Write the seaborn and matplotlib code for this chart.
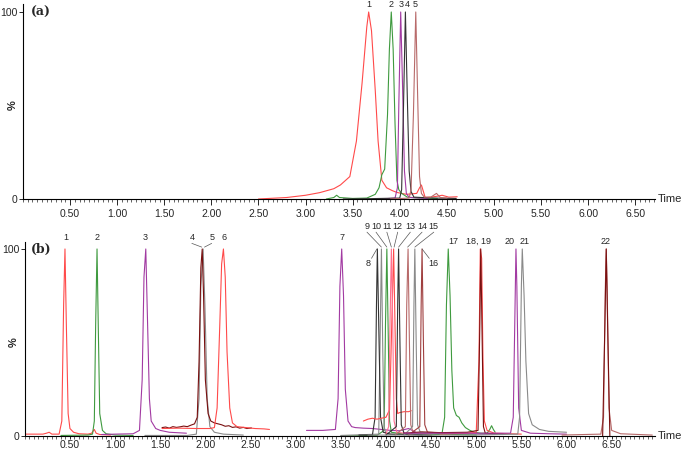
import numpy as np
import pandas as pd
import matplotlib
matplotlib.use("Agg")
import matplotlib.pyplot as plt
import seaborn as sns
from matplotlib.ticker import MultipleLocator, FixedLocator

sns.set_style("ticks")
plt.rcParams['font.family'] = ['Liberation Sans', 'DejaVu Sans']

# ---------------- colours ----------------
RED = "#ff4a4a"
DRED = "#7a1010"
GREEN = "#3f9a3f"
PURPLE = "#a23aa2"
DGRAY = "#333333"
GRAY = "#8a8a8a"
ROSY = "#b86a6a"
PINK = "#ff6f8f"

# ---------------- panel (a) data ----------------
a1_t = [2.50, 2.80, 3.00, 3.15, 3.30, 3.37, 3.47, 3.54, 3.60, 3.65, 3.67, 3.70, 3.74, 3.77, 3.81, 3.86, 3.92, 3.97, 4.07, 4.18, 4.21, 4.23, 4.27, 4.33, 4.40, 4.45, 4.52, 4.61]
a1_y = [0.0, 0.8, 2.0, 3.4, 5.5, 7.5, 12.0, 31.0, 62.0, 92.0, 100.0, 90.0, 58.0, 31.0, 10.0, 6.0, 4.5, 3.5, 2.5, 3.0, 6.0, 7.5, 0.8, 1.0, 1.5, 2.0, 1.0, 1.2]
a2_t = [3.22, 3.30, 3.33, 3.36, 3.50, 3.65, 3.74, 3.78, 3.81, 3.84, 3.87, 3.89, 3.91, 3.93, 3.95, 3.97, 3.99, 4.02, 4.08, 4.20, 4.40]
a2_y = [0.0, 0.8, 2.0, 0.8, 0.3, 0.5, 2.5, 6.0, 13.0, 16.0, 45.0, 80.0, 100.0, 80.0, 40.0, 10.0, 5.0, 3.0, 1.0, 0.5, 0.3]
a3_t = [3.80, 3.95, 3.975, 3.99, 4.01, 4.03, 4.05, 4.07, 4.10, 4.30]
a3_y = [0.0, 0.5, 6.0, 50.0, 100.0, 60.0, 15.0, 3.0, 0.8, 0.3]
a4_t = [3.40, 3.70, 4.00, 4.02, 4.04, 4.06, 4.08, 4.10, 4.12, 4.15, 4.35, 4.60]
a4_y = [0.0, 0.2, 0.5, 5.0, 50.0, 100.0, 55.0, 15.0, 4.0, 1.0, 0.5, 0.3]
a5_t = [3.90, 4.10, 4.12, 4.145, 4.17, 4.19, 4.21, 4.23, 4.26, 4.33, 4.39, 4.43, 4.50]
a5_y = [0.0, 0.5, 5.0, 45.0, 100.0, 55.0, 12.0, 3.0, 1.0, 1.0, 3.0, 0.8, 0.5]

a_traces = [(a1_t, a1_y, RED), (a2_t, a2_y, GREEN), (a3_t, a3_y, PURPLE),
            (a4_t, a4_y, DGRAY), (a5_t, a5_y, ROSY)]

a_labels = ["1", "2", "3", "4", "5"]
a_label_t = [3.67, 3.91, 4.01, 4.08, 4.16]

# ---------------- panel (b) data ----------------
b1_t = [0.00, 0.20, 0.24, 0.27, 0.30, 0.38, 0.41, 0.43, 0.445, 0.46, 0.48, 0.50, 0.54, 0.60, 0.70, 0.74, 0.77, 0.79, 0.83, 0.95]
b1_y = [1.0, 1.0, 1.5, 2.0, 1.0, 1.0, 8.0, 70.0, 100.0, 60.0, 12.0, 4.0, 2.0, 1.2, 1.0, 1.5, 3.5, 1.5, 0.8, 0.5]
b2_t = [0.40, 0.70, 0.75, 0.77, 0.785, 0.80, 0.815, 0.83, 0.86, 0.90, 1.00, 1.20]
b2_y = [0.3, 0.5, 1.0, 8.0, 60.0, 100.0, 55.0, 12.0, 3.0, 1.2, 0.5, 0.3]
b3_t = [0.85, 1.00, 1.20, 1.27, 1.30, 1.32, 1.34, 1.36, 1.38, 1.40, 1.45, 1.50, 1.60, 1.79]
b3_y = [0.8, 1.0, 1.2, 3.0, 30.0, 85.0, 100.0, 60.0, 20.0, 8.0, 4.0, 3.0, 2.0, 1.5]
b4_t = [1.52, 1.56, 1.60, 1.64, 1.68, 1.72, 1.76, 1.80, 1.84, 1.88, 1.91, 1.93, 1.95, 1.965, 1.98, 2.00, 2.03, 2.06, 2.10, 2.14, 2.18, 2.22, 2.26, 2.30, 2.34, 2.38, 2.42, 2.46, 2.51]
b4_y = [4.5, 4.8, 4.2, 5.0, 4.6, 4.9, 5.3, 5.0, 5.8, 6.5, 10.0, 40.0, 90.0, 100.0, 75.0, 30.0, 12.0, 8.0, 7.0, 6.5, 6.0, 5.2, 5.5, 4.6, 4.9, 4.2, 4.6, 4.0, 4.3]
b5_t = [1.33, 1.80, 1.90, 1.93, 1.95, 1.975, 1.995, 2.02, 2.05, 2.10, 2.20, 2.42]
b5_y = [0.3, 0.3, 1.0, 20.0, 80.0, 100.0, 70.0, 20.0, 5.0, 2.0, 1.0, 0.5]
b6_t = [1.52, 1.70, 1.90, 2.05, 2.10, 2.13, 2.16, 2.18, 2.20, 2.22, 2.24, 2.27, 2.30, 2.35, 2.45, 2.55, 2.65, 2.71]
b6_y = [4.0, 4.2, 4.0, 4.0, 4.5, 15.0, 60.0, 92.0, 100.0, 85.0, 45.0, 15.0, 7.0, 5.0, 4.5, 4.0, 3.8, 3.5]
b7_t = [3.12, 3.30, 3.44, 3.47, 3.49, 3.51, 3.53, 3.55, 3.58, 3.62, 3.66, 3.75, 3.85, 3.95, 4.05, 4.15, 4.25, 4.35, 4.50, 4.80, 5.10, 5.30]
b7_y = [3.0, 3.0, 3.5, 20.0, 80.0, 100.0, 75.0, 25.0, 8.0, 5.0, 4.5, 4.2, 4.0, 3.5, 3.0, 2.8, 4.0, 1.5, 1.5, 1.2, 1.0, 0.8]
b8_t = [3.70, 3.85, 3.88, 3.895, 3.905, 3.92, 3.94, 3.97, 4.05, 4.20, 4.50]
b8_y = [0.5, 0.5, 10.0, 70.0, 100.0, 60.0, 10.0, 2.0, 1.0, 0.8, 0.5]
b9_t = [3.50, 3.92, 3.935, 3.95, 3.965, 3.98, 4.00, 4.50]
b9_y = [0.3, 1.0, 50.0, 100.0, 45.0, 5.0, 1.0, 0.5]
b10_t = [3.50, 3.90, 3.98, 3.995, 4.01, 4.025, 4.04, 4.06, 4.20, 4.60, 5.00]
b10_y = [0.0, 0.3, 3.0, 60.0, 100.0, 55.0, 8.0, 2.0, 1.0, 1.0, 0.5]
b11_t = [4.00, 4.03, 4.045, 4.06, 4.075, 4.09, 4.12, 4.30]
b11_y = [1.0, 5.0, 60.0, 100.0, 60.0, 8.0, 2.0, 1.0]
b12_t = [3.75, 3.80, 3.85, 3.90, 3.95, 4.00, 4.04, 4.07, 4.085, 4.10, 4.115, 4.13, 4.15, 4.20, 4.25, 4.28]
b12_y = [8.0, 9.0, 9.5, 9.0, 9.5, 10.0, 14.0, 70.0, 100.0, 60.0, 20.0, 12.0, 12.5, 13.0, 13.0, 13.5]
b13_t = [4.00, 4.115, 4.13, 4.14, 4.155, 4.17, 4.20, 4.40]
b13_y = [0.5, 5.0, 70.0, 100.0, 50.0, 6.0, 1.5, 0.5]
b14_t = [4.10, 4.215, 4.23, 4.245, 4.26, 4.275, 4.30, 4.50]
b14_y = [0.5, 5.0, 70.0, 100.0, 50.0, 6.0, 2.0, 1.0]
b15_t = [4.20, 4.295, 4.31, 4.32, 4.335, 4.35, 4.38, 4.60]
b15_y = [0.5, 5.0, 70.0, 100.0, 50.0, 6.0, 2.0, 1.0]
b16_t = [4.25, 4.375, 4.39, 4.40, 4.415, 4.43, 4.46, 4.70]
b16_y = [0.5, 5.0, 70.0, 100.0, 50.0, 6.0, 2.0, 1.5]
b17_t = [4.50, 4.62, 4.65, 4.67, 4.69, 4.71, 4.73, 4.75, 4.78, 4.81, 4.84, 4.88, 4.93, 4.98, 5.05, 5.12, 5.15, 5.17, 5.19, 5.21]
b17_y = [0.5, 1.0, 10.0, 70.0, 100.0, 75.0, 35.0, 15.0, 11.0, 10.0, 7.0, 4.5, 3.0, 2.0, 1.5, 1.5, 3.5, 5.5, 3.5, 2.0]
b18_t = [4.60, 4.90, 5.00, 5.03, 5.045, 5.06, 5.075, 5.09, 5.12, 5.20, 5.50]
b18_y = [1.0, 1.5, 2.0, 40.0, 100.0, 95.0, 40.0, 8.0, 3.0, 1.5, 1.0]
b19_t = [4.20, 4.40, 4.60, 4.90, 5.02, 5.04, 5.05, 5.06, 5.08, 5.10, 5.30]
b19_y = [1.5, 2.2, 1.8, 2.0, 3.0, 60.0, 100.0, 70.0, 5.0, 1.5, 1.0]
b20_t = [4.20, 5.00, 5.38, 5.41, 5.43, 5.44, 5.45, 5.47, 5.50, 5.60, 5.80, 6.00]
b20_y = [1.5, 1.5, 1.5, 10.0, 70.0, 100.0, 80.0, 15.0, 3.0, 1.5, 1.2, 1.0]
b21_t = [3.80, 5.00, 5.46, 5.48, 5.50, 5.51, 5.53, 5.55, 5.58, 5.62, 5.70, 5.80, 6.00]
b21_y = [0.5, 0.5, 1.0, 10.0, 80.0, 100.0, 75.0, 40.0, 12.0, 6.0, 3.5, 2.5, 2.0]
b22_t = [5.95, 6.20, 6.38, 6.41, 6.43, 6.44, 6.45, 6.47, 6.50, 6.60, 6.80, 6.95]
b22_y = [0.5, 0.8, 1.0, 10.0, 80.0, 100.0, 80.0, 15.0, 3.0, 1.2, 0.8, 0.5]
b22c_t = [6.40, 6.425, 6.44, 6.455, 6.48]
b22c_y = [0.0, 60.0, 100.0, 60.0, 0.0]

b_traces = [
    (b1_t, b1_y, RED), (b2_t, b2_y, GREEN), (b3_t, b3_y, PURPLE),
    (b5_t, b5_y, GRAY), (b4_t, b4_y, DRED), (b6_t, b6_y, RED),
    (b7_t, b7_y, PURPLE), (b10_t, b10_y, GREEN), (b9_t, b9_y, GRAY),
    (b8_t, b8_y, DGRAY), (b12_t, b12_y, RED), (b11_t, b11_y, PINK),
    (b13_t, b13_y, DGRAY), (b14_t, b14_y, ROSY), (b15_t, b15_y, GRAY),
    (b16_t, b16_y, "#a04040"), (b17_t, b17_y, GREEN), (b18_t, b18_y, RED),
    (b19_t, b19_y, DRED), (b20_t, b20_y, PURPLE), (b21_t, b21_y, GRAY),
    (b22_t, b22_y, ROSY), (b22c_t, b22c_y, DRED),
]

# labels: text, label position (t, y), leader end (t) or None
b_labels = ["1", "2", "3", "4", "5", "6", "7", "8", "9", "10", "11", "12", "13",
            "14", "15", "16", "17", "18, 19", "20", "21", "22"]
b_label_t = [0.45, 0.80, 1.33, 1.85, 2.07, 2.21, 3.51, 3.80, 3.79, 3.89, 4.01, 4.13,
             4.27, 4.40, 4.53, 4.52, 4.75, 5.03, 5.37, 5.53, 6.43]
b_label_y = [106, 106, 106, 106, 106, 106, 106, 92, 112, 112, 112, 112, 112, 112,
             112, 92, 104, 104, 104, 104, 104]
b_peak_t = [None, None, None, 1.96, 1.99, None, None, 3.90, 3.95, 4.01, 4.06, 4.09,
            4.14, 4.24, 4.32, 4.40, None, None, None, None, None]


def draw(ax, traces):
    for t, y, c in traces:
        df = pd.DataFrame({"t": t, "y": y})
        sns.lineplot(data=df, x="t", y="y", ax=ax, color=c, lw=0.8,
                     sort=False, estimator=None, legend=False)


fig = plt.figure(figsize=(6.85, 4.51), dpi=100)
ax_a = fig.add_axes([23 / 685, 1 - 199 / 451, 632 / 685, 194.5 / 451])
ax_b = fig.add_axes([24.8 / 685, 1 - 436 / 451, 630.2 / 685, 194.5 / 451])

draw(ax_a, a_traces)
draw(ax_b, b_traces)

for ax, xmax, tlen, tpad in ((ax_a, 6.71, 4, 3), (ax_b, 6.98, 2.5, 0.5)):
    ax.set_xlim(0, xmax)
    ax.set_ylim(0, 104)
    ax.set_xlabel("")
    ax.set_ylabel("")
    for s in ("top", "right"):
        ax.spines[s].set_visible(False)
    for s in ("left", "bottom"):
        ax.spines[s].set_linewidth(0.8)
        ax.spines[s].set_color("black")
    ax.xaxis.set_major_locator(FixedLocator([0.5 * k for k in range(1, 14)]))
    ax.set_xticklabels([f"{0.5 * k:.2f}" for k in range(1, 14)], fontsize=7.5)
    ax.xaxis.set_minor_locator(MultipleLocator(0.05))
    ax.tick_params(axis="x", which="major", length=tlen, width=0.7, pad=tpad)
    ax.tick_params(axis="x", which="minor", length=2, width=0.5)
    ax.set_yticks([0, 100])
    ax.set_yticklabels(["0", "100"], fontsize=7.5)
    ax.tick_params(axis="y", length=3, width=0.7, pad=1)
    ax.text(-0.017, 50 / 104, "%", transform=ax.transAxes, rotation=90,
            ha="center", va="center", fontsize=8, fontweight="bold")
    ax.text(1.004, 0, "Time", transform=ax.transAxes, ha="left", va="center",
            fontsize=8)

ax_a.text(0.012, 100, "(a)", fontsize=9, fontweight="bold", family="DejaVu Serif",
          transform=ax_a.get_yaxis_transform(), va="center", ha="left")
ax_b.text(0.010, 100, "(b)", fontsize=9, fontweight="bold", family="DejaVu Serif",
          transform=ax_b.get_yaxis_transform(), va="center", ha="left")

for lab, t in zip(a_labels, a_label_t):
    ax_a.text(t, 104, lab, ha="center", va="center", fontsize=6.5)

for lab, lt, ly, pt in zip(b_labels, b_label_t, b_label_y, b_peak_t):
    ax_b.text(lt, ly, lab, ha="center", va="center", fontsize=6.5)
    if pt is not None:
        if ly > 100:
            ax_b.plot([lt, pt], [ly - 3, 101], color="#555555", lw=0.5, clip_on=False)
        else:
            ax_b.plot([lt + (0.04 if pt > lt else -0.04), pt], [ly + 3, 100],
                      color="#555555", lw=0.5, clip_on=False)

fig.savefig("out.png", dpi=100)
